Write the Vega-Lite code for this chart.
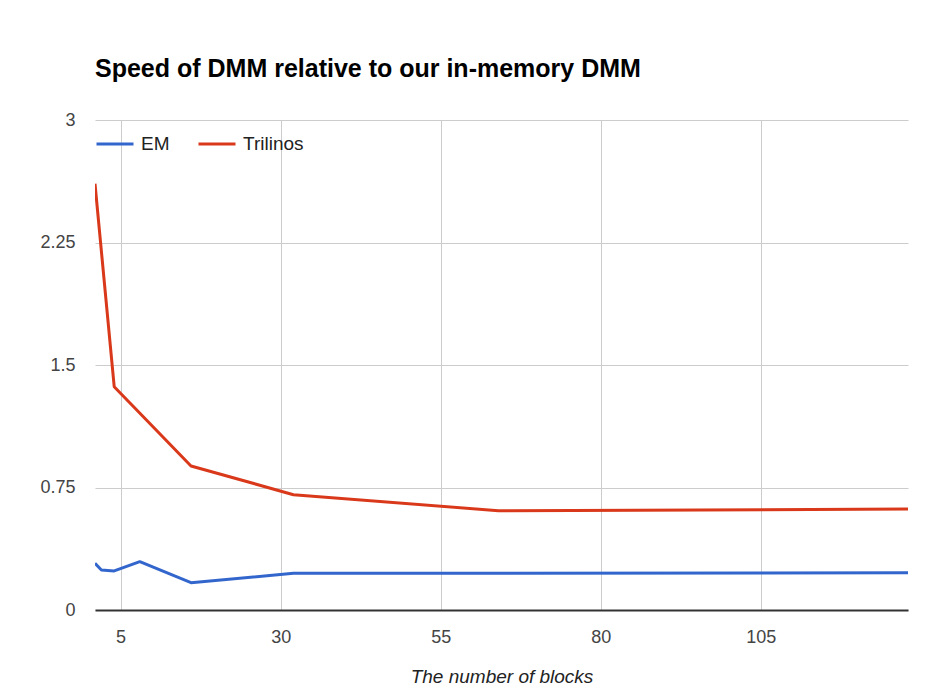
{
  "$schema": "https://vega.github.io/schema/vega-lite/v6.json",
  "width": 813,
  "height": 490,
  "autosize": {"type": "none"},
  "padding": {"left": 95, "top": 120, "right": 34, "bottom": 90},
  "background": "white",
  "title": {
    "text": "Speed of DMM relative to our in-memory DMM",
    "anchor": "start",
    "frame": "group",
    "font": "Liberation Sans",
    "fontSize": 25,
    "fontWeight": "bold",
    "color": "#000000",
    "baseline": "alphabetic",
    "offset": 9
  },
  "data": {
    "values": [
      {"blocks": 1, "speed": 0.286, "series": "EM"},
      {"blocks": 2, "speed": 0.245, "series": "EM"},
      {"blocks": 4, "speed": 0.239, "series": "EM"},
      {"blocks": 8, "speed": 0.296, "series": "EM"},
      {"blocks": 16, "speed": 0.167, "series": "EM"},
      {"blocks": 32, "speed": 0.225, "series": "EM"},
      {"blocks": 64, "speed": 0.225, "series": "EM"},
      {"blocks": 128, "speed": 0.228, "series": "EM"},
      {"blocks": 1, "speed": 2.61, "series": "Trilinos"},
      {"blocks": 4, "speed": 1.367, "series": "Trilinos"},
      {"blocks": 16, "speed": 0.882, "series": "Trilinos"},
      {"blocks": 32, "speed": 0.706, "series": "Trilinos"},
      {"blocks": 64, "speed": 0.608, "series": "Trilinos"},
      {"blocks": 128, "speed": 0.618, "series": "Trilinos"}
    ]
  },
  "mark": {"type": "line", "strokeWidth": 3, "strokeJoin": "round", "clip": true},
  "encoding": {
    "x": {
      "field": "blocks",
      "type": "quantitative",
      "scale": {"domain": [1, 128], "nice": false, "zero": false},
      "axis": {
        "title": "The number of blocks",
        "values": [5, 30, 55, 80, 105],
        "ticks": false,
        "domain": true,
        "domainColor": "#333333",
        "domainWidth": 2,
        "grid": true,
        "gridColor": "#cccccc",
        "labelFont": "Liberation Sans",
        "labelFontSize": 18,
        "labelColor": "#444444",
        "labelPadding": 18,
        "titleFont": "Liberation Sans",
        "titleFontSize": 19,
        "titleFontStyle": "italic",
        "titleFontWeight": "normal",
        "titleColor": "#222222",
        "titlePadding": 21
      }
    },
    "y": {
      "field": "speed",
      "type": "quantitative",
      "scale": {"domain": [0, 3], "nice": false},
      "axis": {
        "title": null,
        "values": [0, 0.75, 1.5, 2.25, 3],
        "format": ".3~g",
        "ticks": false,
        "domain": false,
        "grid": true,
        "gridColor": "#cccccc",
        "labelFont": "Liberation Sans",
        "labelFontSize": 18,
        "labelColor": "#444444",
        "labelPadding": 20
      }
    },
    "color": {
      "field": "series",
      "type": "nominal",
      "scale": {"domain": ["EM", "Trilinos"], "range": ["#3366cc", "#d9391a"]},
      "legend": {
        "title": null,
        "orient": "none",
        "direction": "horizontal",
        "legendX": 0,
        "legendY": 4,
        "padding": 0,
        "symbolType": "stroke",
        "symbolSize": 1369,
        "symbolStrokeWidth": 3,
        "labelFont": "Liberation Sans",
        "labelFontSize": 19,
        "labelColor": "#222222",
        "labelOffset": 6,
        "columnPadding": 22
      }
    }
  },
  "config": {
    "view": {"stroke": null}
  }
}
